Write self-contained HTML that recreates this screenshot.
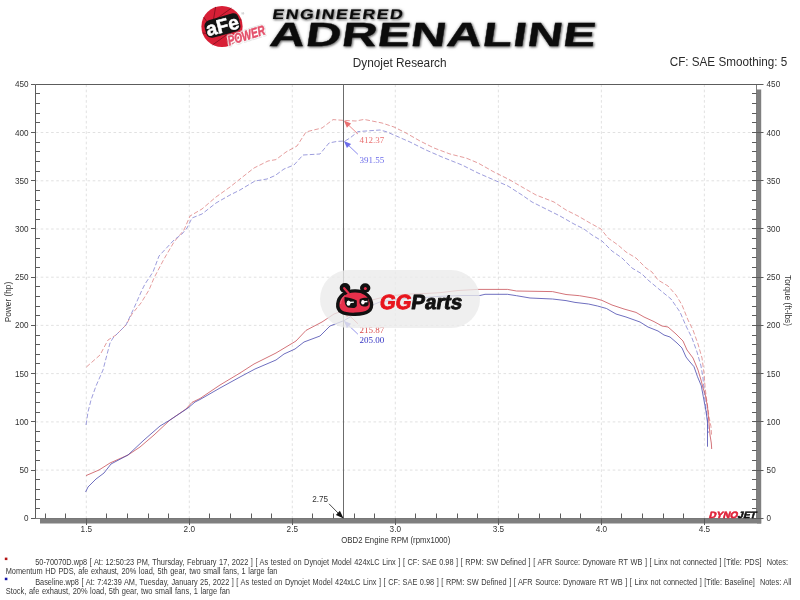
<!DOCTYPE html>
<html lang="en"><head><meta charset="utf-8"><title>Dynojet Research - Dyno Chart</title>
<style>html,body{margin:0;padding:0;background:#fff}body{width:800px;height:600px;overflow:hidden}svg{display:block;will-change:transform}text{font-family:"Liberation Sans",sans-serif}.t8{font-size:9.4px;fill:#333}.ser{font-family:"Liberation Serif",serif;font-size:9px}.ft{font-size:8.8px;fill:#383838}</style></head><body>
<svg width="800" height="600" viewBox="0 0 800 600">
<rect width="800" height="600" fill="#fff"/>
<g stroke="#dedede" stroke-width="0.9" stroke-dasharray="2.6 2.6" fill="none">
<line x1="86.3" y1="84.5" x2="86.3" y2="518.5"/>
<line x1="189.3" y1="84.5" x2="189.3" y2="518.5"/>
<line x1="292.3" y1="84.5" x2="292.3" y2="518.5"/>
<line x1="395.3" y1="84.5" x2="395.3" y2="518.5"/>
<line x1="498.4" y1="84.5" x2="498.4" y2="518.5"/>
<line x1="601.4" y1="84.5" x2="601.4" y2="518.5"/>
<line x1="704.4" y1="84.5" x2="704.4" y2="518.5"/>
<line x1="35.5" y1="470.1" x2="756.5" y2="470.1"/>
<line x1="35.5" y1="421.9" x2="756.5" y2="421.9"/>
<line x1="35.5" y1="373.6" x2="756.5" y2="373.6"/>
<line x1="35.5" y1="325.4" x2="756.5" y2="325.4"/>
<line x1="35.5" y1="277.2" x2="756.5" y2="277.2"/>
<line x1="35.5" y1="229.0" x2="756.5" y2="229.0"/>
<line x1="35.5" y1="180.8" x2="756.5" y2="180.8"/>
<line x1="35.5" y1="132.5" x2="756.5" y2="132.5"/>
</g>
<rect x="40" y="518.8" width="721.2" height="4.7" fill="#7f7f7f"/>
<rect x="757" y="89.5" width="4.2" height="434" fill="#7f7f7f"/>
<g stroke="#5c5c5c" stroke-width="1" fill="none">
<line x1="35.5" y1="84.5" x2="756.5" y2="84.5"/>
<line x1="35.5" y1="84.5" x2="35.5" y2="518.5"/>
<line x1="35.5" y1="518.5" x2="756.5" y2="518.5" stroke-width="0.8"/>
<line x1="756.5" y1="84.5" x2="756.5" y2="518.5" stroke-width="0.8"/>
<line x1="31" y1="518.5" x2="35.5" y2="518.5"/>
<line x1="752" y1="518.5" x2="763.5" y2="518.5"/>
<line x1="35.5" y1="508.5" x2="40" y2="508.5"/>
<line x1="752" y1="508.5" x2="756.5" y2="508.5"/>
<line x1="35.5" y1="499.5" x2="40" y2="499.5"/>
<line x1="752" y1="499.5" x2="756.5" y2="499.5"/>
<line x1="35.5" y1="489.5" x2="40" y2="489.5"/>
<line x1="752" y1="489.5" x2="756.5" y2="489.5"/>
<line x1="35.5" y1="479.5" x2="40" y2="479.5"/>
<line x1="752" y1="479.5" x2="756.5" y2="479.5"/>
<line x1="31" y1="470.5" x2="35.5" y2="470.5"/>
<line x1="752" y1="470.5" x2="763.5" y2="470.5"/>
<line x1="35.5" y1="460.5" x2="40" y2="460.5"/>
<line x1="752" y1="460.5" x2="756.5" y2="460.5"/>
<line x1="35.5" y1="450.5" x2="40" y2="450.5"/>
<line x1="752" y1="450.5" x2="756.5" y2="450.5"/>
<line x1="35.5" y1="441.5" x2="40" y2="441.5"/>
<line x1="752" y1="441.5" x2="756.5" y2="441.5"/>
<line x1="35.5" y1="431.5" x2="40" y2="431.5"/>
<line x1="752" y1="431.5" x2="756.5" y2="431.5"/>
<line x1="31" y1="421.5" x2="35.5" y2="421.5"/>
<line x1="752" y1="421.5" x2="763.5" y2="421.5"/>
<line x1="35.5" y1="412.5" x2="40" y2="412.5"/>
<line x1="752" y1="412.5" x2="756.5" y2="412.5"/>
<line x1="35.5" y1="402.5" x2="40" y2="402.5"/>
<line x1="752" y1="402.5" x2="756.5" y2="402.5"/>
<line x1="35.5" y1="392.5" x2="40" y2="392.5"/>
<line x1="752" y1="392.5" x2="756.5" y2="392.5"/>
<line x1="35.5" y1="383.5" x2="40" y2="383.5"/>
<line x1="752" y1="383.5" x2="756.5" y2="383.5"/>
<line x1="31" y1="373.5" x2="35.5" y2="373.5"/>
<line x1="752" y1="373.5" x2="763.5" y2="373.5"/>
<line x1="35.5" y1="363.5" x2="40" y2="363.5"/>
<line x1="752" y1="363.5" x2="756.5" y2="363.5"/>
<line x1="35.5" y1="354.5" x2="40" y2="354.5"/>
<line x1="752" y1="354.5" x2="756.5" y2="354.5"/>
<line x1="35.5" y1="344.5" x2="40" y2="344.5"/>
<line x1="752" y1="344.5" x2="756.5" y2="344.5"/>
<line x1="35.5" y1="335.5" x2="40" y2="335.5"/>
<line x1="752" y1="335.5" x2="756.5" y2="335.5"/>
<line x1="31" y1="325.5" x2="35.5" y2="325.5"/>
<line x1="752" y1="325.5" x2="763.5" y2="325.5"/>
<line x1="35.5" y1="315.5" x2="40" y2="315.5"/>
<line x1="752" y1="315.5" x2="756.5" y2="315.5"/>
<line x1="35.5" y1="306.5" x2="40" y2="306.5"/>
<line x1="752" y1="306.5" x2="756.5" y2="306.5"/>
<line x1="35.5" y1="296.5" x2="40" y2="296.5"/>
<line x1="752" y1="296.5" x2="756.5" y2="296.5"/>
<line x1="35.5" y1="286.5" x2="40" y2="286.5"/>
<line x1="752" y1="286.5" x2="756.5" y2="286.5"/>
<line x1="31" y1="277.5" x2="35.5" y2="277.5"/>
<line x1="752" y1="277.5" x2="763.5" y2="277.5"/>
<line x1="35.5" y1="267.5" x2="40" y2="267.5"/>
<line x1="752" y1="267.5" x2="756.5" y2="267.5"/>
<line x1="35.5" y1="257.5" x2="40" y2="257.5"/>
<line x1="752" y1="257.5" x2="756.5" y2="257.5"/>
<line x1="35.5" y1="248.5" x2="40" y2="248.5"/>
<line x1="752" y1="248.5" x2="756.5" y2="248.5"/>
<line x1="35.5" y1="238.5" x2="40" y2="238.5"/>
<line x1="752" y1="238.5" x2="756.5" y2="238.5"/>
<line x1="31" y1="228.5" x2="35.5" y2="228.5"/>
<line x1="752" y1="228.5" x2="763.5" y2="228.5"/>
<line x1="35.5" y1="219.5" x2="40" y2="219.5"/>
<line x1="752" y1="219.5" x2="756.5" y2="219.5"/>
<line x1="35.5" y1="209.5" x2="40" y2="209.5"/>
<line x1="752" y1="209.5" x2="756.5" y2="209.5"/>
<line x1="35.5" y1="200.5" x2="40" y2="200.5"/>
<line x1="752" y1="200.5" x2="756.5" y2="200.5"/>
<line x1="35.5" y1="190.5" x2="40" y2="190.5"/>
<line x1="752" y1="190.5" x2="756.5" y2="190.5"/>
<line x1="31" y1="180.5" x2="35.5" y2="180.5"/>
<line x1="752" y1="180.5" x2="763.5" y2="180.5"/>
<line x1="35.5" y1="171.5" x2="40" y2="171.5"/>
<line x1="752" y1="171.5" x2="756.5" y2="171.5"/>
<line x1="35.5" y1="161.5" x2="40" y2="161.5"/>
<line x1="752" y1="161.5" x2="756.5" y2="161.5"/>
<line x1="35.5" y1="151.5" x2="40" y2="151.5"/>
<line x1="752" y1="151.5" x2="756.5" y2="151.5"/>
<line x1="35.5" y1="142.5" x2="40" y2="142.5"/>
<line x1="752" y1="142.5" x2="756.5" y2="142.5"/>
<line x1="31" y1="132.5" x2="35.5" y2="132.5"/>
<line x1="752" y1="132.5" x2="763.5" y2="132.5"/>
<line x1="35.5" y1="122.5" x2="40" y2="122.5"/>
<line x1="752" y1="122.5" x2="756.5" y2="122.5"/>
<line x1="35.5" y1="113.5" x2="40" y2="113.5"/>
<line x1="752" y1="113.5" x2="756.5" y2="113.5"/>
<line x1="35.5" y1="103.5" x2="40" y2="103.5"/>
<line x1="752" y1="103.5" x2="756.5" y2="103.5"/>
<line x1="35.5" y1="93.5" x2="40" y2="93.5"/>
<line x1="752" y1="93.5" x2="756.5" y2="93.5"/>
<line x1="31" y1="84.5" x2="35.5" y2="84.5"/>
<line x1="752" y1="84.5" x2="763.5" y2="84.5"/>
<line x1="45.5" y1="513.5" x2="45.5" y2="518.5"/>
<line x1="65.5" y1="513.5" x2="65.5" y2="518.5"/>
<line x1="86.5" y1="518.5" x2="86.5" y2="525"/>
<line x1="106.5" y1="513.5" x2="106.5" y2="518.5"/>
<line x1="127.5" y1="513.5" x2="127.5" y2="518.5"/>
<line x1="148.5" y1="513.5" x2="148.5" y2="518.5"/>
<line x1="168.5" y1="513.5" x2="168.5" y2="518.5"/>
<line x1="189.5" y1="518.5" x2="189.5" y2="525"/>
<line x1="209.5" y1="513.5" x2="209.5" y2="518.5"/>
<line x1="230.5" y1="513.5" x2="230.5" y2="518.5"/>
<line x1="251.5" y1="513.5" x2="251.5" y2="518.5"/>
<line x1="271.5" y1="513.5" x2="271.5" y2="518.5"/>
<line x1="292.5" y1="518.5" x2="292.5" y2="525"/>
<line x1="312.5" y1="513.5" x2="312.5" y2="518.5"/>
<line x1="333.5" y1="513.5" x2="333.5" y2="518.5"/>
<line x1="354.5" y1="513.5" x2="354.5" y2="518.5"/>
<line x1="374.5" y1="513.5" x2="374.5" y2="518.5"/>
<line x1="395.5" y1="518.5" x2="395.5" y2="525"/>
<line x1="415.5" y1="513.5" x2="415.5" y2="518.5"/>
<line x1="436.5" y1="513.5" x2="436.5" y2="518.5"/>
<line x1="457.5" y1="513.5" x2="457.5" y2="518.5"/>
<line x1="477.5" y1="513.5" x2="477.5" y2="518.5"/>
<line x1="498.5" y1="518.5" x2="498.5" y2="525"/>
<line x1="518.5" y1="513.5" x2="518.5" y2="518.5"/>
<line x1="539.5" y1="513.5" x2="539.5" y2="518.5"/>
<line x1="560.5" y1="513.5" x2="560.5" y2="518.5"/>
<line x1="580.5" y1="513.5" x2="580.5" y2="518.5"/>
<line x1="601.5" y1="518.5" x2="601.5" y2="525"/>
<line x1="621.5" y1="513.5" x2="621.5" y2="518.5"/>
<line x1="642.5" y1="513.5" x2="642.5" y2="518.5"/>
<line x1="663.5" y1="513.5" x2="663.5" y2="518.5"/>
<line x1="683.5" y1="513.5" x2="683.5" y2="518.5"/>
<line x1="704.5" y1="518.5" x2="704.5" y2="525"/>
<line x1="724.5" y1="513.5" x2="724.5" y2="518.5"/>
<line x1="745.5" y1="513.5" x2="745.5" y2="518.5"/>
</g>
<g class="t8">
<text x="23.9" y="521.3" textLength="4.5" lengthAdjust="spacingAndGlyphs">0</text>
<text x="766.6" y="521.3" textLength="4.5" lengthAdjust="spacingAndGlyphs">0</text>
<text x="19.4" y="473.1" textLength="9.1" lengthAdjust="spacingAndGlyphs">50</text>
<text x="766.6" y="473.1" textLength="9.1" lengthAdjust="spacingAndGlyphs">50</text>
<text x="14.9" y="424.9" textLength="13.6" lengthAdjust="spacingAndGlyphs">100</text>
<text x="766.6" y="424.9" textLength="13.6" lengthAdjust="spacingAndGlyphs">100</text>
<text x="14.9" y="376.6" textLength="13.6" lengthAdjust="spacingAndGlyphs">150</text>
<text x="766.6" y="376.6" textLength="13.6" lengthAdjust="spacingAndGlyphs">150</text>
<text x="14.9" y="328.4" textLength="13.6" lengthAdjust="spacingAndGlyphs">200</text>
<text x="766.6" y="328.4" textLength="13.6" lengthAdjust="spacingAndGlyphs">200</text>
<text x="14.9" y="280.2" textLength="13.6" lengthAdjust="spacingAndGlyphs">250</text>
<text x="766.6" y="280.2" textLength="13.6" lengthAdjust="spacingAndGlyphs">250</text>
<text x="14.9" y="232.0" textLength="13.6" lengthAdjust="spacingAndGlyphs">300</text>
<text x="766.6" y="232.0" textLength="13.6" lengthAdjust="spacingAndGlyphs">300</text>
<text x="14.9" y="183.8" textLength="13.6" lengthAdjust="spacingAndGlyphs">350</text>
<text x="766.6" y="183.8" textLength="13.6" lengthAdjust="spacingAndGlyphs">350</text>
<text x="14.9" y="135.5" textLength="13.6" lengthAdjust="spacingAndGlyphs">400</text>
<text x="766.6" y="135.5" textLength="13.6" lengthAdjust="spacingAndGlyphs">400</text>
<text x="14.9" y="87.3" textLength="13.6" lengthAdjust="spacingAndGlyphs">450</text>
<text x="766.6" y="87.3" textLength="13.6" lengthAdjust="spacingAndGlyphs">450</text>
<text x="80.6" y="532.1" textLength="11.4" lengthAdjust="spacingAndGlyphs">1.5</text>
<text x="183.6" y="532.1" textLength="11.4" lengthAdjust="spacingAndGlyphs">2.0</text>
<text x="286.6" y="532.1" textLength="11.4" lengthAdjust="spacingAndGlyphs">2.5</text>
<text x="389.6" y="532.1" textLength="11.4" lengthAdjust="spacingAndGlyphs">3.0</text>
<text x="492.7" y="532.1" textLength="11.4" lengthAdjust="spacingAndGlyphs">3.5</text>
<text x="595.7" y="532.1" textLength="11.4" lengthAdjust="spacingAndGlyphs">4.0</text>
<text x="698.7" y="532.1" textLength="11.4" lengthAdjust="spacingAndGlyphs">4.5</text>
<text x="341.3" y="543" textLength="109" lengthAdjust="spacingAndGlyphs">OBD2 Engine RPM (rpmx1000)</text>
<text transform="translate(11.1,322.3) rotate(-90)" textLength="40.5" lengthAdjust="spacingAndGlyphs">Power (hp)</text>
<text transform="translate(785,275) rotate(90)" textLength="51" lengthAdjust="spacingAndGlyphs">Torque (ft-lbs)</text>
</g>
<text x="352.7" y="66.7" font-size="12.2" fill="#2b2b2b" textLength="93.9" lengthAdjust="spacingAndGlyphs">Dynojet Research</text>
<text x="669.7" y="66.3" font-size="12.2" fill="#2b2b2b" textLength="117.6" lengthAdjust="spacingAndGlyphs">CF: SAE Smoothing: 5</text>
<polyline points="86.4,367.0 100.0,355.0 108.0,340.0 116.0,335.0 126.0,325.0 132.0,314.0 141.0,303.0 149.0,290.0 154.0,278.0 164.0,259.0 174.0,242.0 184.0,230.0 190.0,216.0 202.0,209.0 216.0,197.0 230.0,187.0 240.0,179.0 254.0,168.0 268.0,161.0 276.0,159.6 286.0,152.0 297.0,146.0 306.0,132.0 312.0,130.4 322.0,128.0 333.0,119.6 344.0,120.4 356.0,121.0 364.0,119.4 372.0,121.0 382.0,123.0 394.0,127.0 406.0,133.0 420.0,141.0 434.0,148.0 450.0,154.0 466.0,158.0 478.0,163.0 494.0,172.0 510.0,180.0 522.0,187.0 536.0,195.0 554.0,202.0 566.0,210.0 578.0,216.0 590.0,223.0 601.0,229.0 608.0,238.0 618.0,245.0 626.0,252.0 636.0,258.0 646.0,268.0 652.0,272.0 658.0,280.0 668.0,286.0 676.0,295.0 682.0,305.0 688.0,320.0 693.0,330.0 698.0,344.0 702.0,358.0 704.0,373.0 705.0,386.7 706.7,400.0 709.0,416.7 711.0,426.7 711.7,436.7" fill="none" stroke="#dc7c7c" stroke-width="0.75" stroke-dasharray="4.6 2.2" stroke-linejoin="round"/>
<polyline points="86.0,425.0 88.0,412.0 91.0,400.0 96.0,386.0 103.0,370.0 110.0,343.0 113.0,338.0 126.0,325.0 134.0,308.0 142.0,290.0 145.0,284.0 153.0,272.0 159.0,256.0 174.0,240.0 182.0,234.0 187.0,228.0 192.0,218.0 202.0,214.0 216.0,203.0 230.0,195.0 240.0,190.0 255.0,181.0 267.0,179.0 275.0,175.6 284.0,169.0 294.0,165.0 303.0,155.0 320.0,154.0 329.0,143.0 337.0,141.4 345.0,141.0 350.0,138.0 358.0,131.6 366.0,131.0 380.0,130.0 386.0,131.6 394.0,135.0 410.0,142.0 426.0,150.0 442.0,157.0 462.0,165.0 478.0,173.0 494.0,180.0 508.0,186.0 522.0,195.0 532.0,202.0 542.0,207.0 560.0,216.0 574.0,224.0 584.0,229.0 592.0,235.0 602.0,241.0 612.0,251.0 622.0,258.0 632.0,268.0 642.0,274.0 648.0,280.0 660.0,290.0 671.0,299.0 680.0,312.0 686.0,326.0 692.0,338.0 697.0,352.0 701.0,366.0 703.0,378.0 704.0,390.0 705.0,400.0 706.7,413.0 708.0,426.7 708.3,433.0" fill="none" stroke="#7c7cd0" stroke-width="0.75" stroke-dasharray="4.6 2.2" stroke-linejoin="round"/>
<polyline points="86.0,475.6 99.0,470.0 110.0,463.0 128.0,455.0 140.0,447.0 154.0,435.0 170.0,420.0 186.0,409.0 192.0,402.4 200.0,398.5 220.0,385.0 240.0,373.0 254.0,364.0 276.0,353.0 296.0,341.0 306.0,330.4 322.0,322.0 334.0,314.0 344.0,310.3 352.0,307.0 360.0,303.8 370.0,300.5 380.0,298.0 395.0,295.3 411.0,294.0 425.0,293.5 440.0,292.7 458.0,290.5 478.0,289.4 507.5,289.4 516.5,291.0 552.5,291.6 566.0,294.5 579.5,295.7 595.0,298.4 602.0,300.4 612.0,305.0 624.0,309.0 636.0,312.4 644.0,317.0 654.0,321.6 662.0,326.0 668.0,327.0 676.0,334.0 683.0,341.0 687.0,350.0 693.0,358.0 698.0,370.0 701.0,380.0 703.0,388.0 705.0,393.3 707.5,406.7 709.0,423.0 710.0,435.0 711.3,443.0 711.7,449.0" fill="none" stroke="#c85058" stroke-width="0.8" stroke-linejoin="round"/>
<polyline points="85.6,492.0 88.0,487.0 96.0,479.0 104.0,473.0 111.0,464.0 128.0,455.0 144.0,440.0 160.0,426.0 170.0,420.0 182.0,412.0 188.0,408.0 195.0,402.0 200.0,399.5 220.0,388.0 240.0,377.0 255.0,369.0 276.0,360.0 284.0,354.0 295.0,349.0 304.0,342.0 320.0,336.0 330.0,326.0 344.0,320.6 350.0,317.0 358.0,310.7 366.0,307.5 380.0,302.0 394.0,299.7 410.0,298.1 426.0,297.4 440.0,296.3 462.0,295.5 480.0,295.5 485.0,294.3 507.5,294.3 516.5,295.7 530.0,298.0 552.5,299.0 566.0,300.6 575.0,302.4 588.5,304.0 597.5,306.0 606.5,308.5 616.0,314.0 626.0,317.0 640.0,322.0 648.0,327.0 658.0,331.0 664.0,335.0 670.0,337.0 677.0,343.0 682.0,348.0 686.0,357.0 688.3,360.0 694.0,366.7 697.5,376.7 701.3,385.8 703.3,396.7 705.8,410.0 707.5,421.7 707.5,435.0 707.5,446.7" fill="none" stroke="#4a4aae" stroke-width="0.8" stroke-linejoin="round"/>
<line x1="343.5" y1="84.5" x2="343.5" y2="518.5" stroke="#6c6c6c" stroke-width="1"/>
<line x1="329" y1="503.8" x2="341" y2="516" stroke="#111" stroke-width="0.75"/>
<path d="M343.6 518.6 L335.9 514.9 L339.9 510.7 Z" fill="#111"/>
<text class="t8" x="312.2" y="502.4" textLength="15.9" lengthAdjust="spacingAndGlyphs">2.75</text>
<line x1="345.9" y1="122.6" x2="357.9" y2="134.0" stroke="#ea7070" stroke-width="0.8"/>
<path d="M343.9 120.6 L351.1 123.6 L346.9 127.8 Z" fill="#ea7070"/>
<text class="ser" x="359.6" y="142.9" fill="#ea7070">412.37</text>
<line x1="345.9" y1="142.9" x2="357.9" y2="154.3" stroke="#6c6cea" stroke-width="0.8"/>
<path d="M343.9 140.9 L351.1 143.9 L346.9 148.1 Z" fill="#6c6cea"/>
<text class="ser" x="359.6" y="162.7" fill="#6c6cea">391.55</text>
<line x1="345.9" y1="312.3" x2="357.9" y2="323.7" stroke="#d84848" stroke-width="0.8"/>
<path d="M343.9 310.3 L351.1 313.3 L346.9 317.5 Z" fill="#d84848"/>
<text class="ser" x="359.6" y="332.9" fill="#d84848">215.87</text>
<line x1="345.9" y1="322.8" x2="357.9" y2="334.2" stroke="#7a7ae6" stroke-width="0.8"/>
<path d="M343.9 320.8 L351.1 323.8 L346.9 328.0 Z" fill="#7a7ae6"/>
<text class="ser" x="359.6" y="342.8" fill="#3434c4">205.00</text>
<text transform="translate(708.6,518.2) skewX(-16)" font-size="9.2" font-weight="bold" stroke-width="0.55" paint-order="stroke" textLength="47" lengthAdjust="spacingAndGlyphs"><tspan fill="#e0233a" stroke="#e0233a">DYNO</tspan><tspan fill="#111" stroke="#111">JET</tspan></text>
<rect x="320" y="270" width="160" height="58" rx="29" fill="#ebebeb" fill-opacity="0.78"/>
<g transform="translate(336,282.6)">
<ellipse cx="9" cy="5.4" rx="5.3" ry="4.9" fill="#111"/>
<ellipse cx="29.2" cy="5.4" rx="5.2" ry="4.7" fill="#111"/>
<path d="M18.5 8.3 C27 7.9 33.8 12 35.4 20 C36.8 27.5 32 31.3 19 31.7 C6 32.1 1 28.5 1.8 21 C2.6 13.5 9 8.6 18.5 8.3 Z" fill="#e7304b" stroke="#111" stroke-width="3.4" stroke-linejoin="round"/>
<path d="M8.2 5.6 L12.6 10.6" stroke="#e7304b" stroke-width="2.2" stroke-linecap="round"/>
<circle cx="29.3" cy="5.9" r="1.5" fill="#e7304b"/>
<path d="M4.6 21 C5 17.5 6.4 15 8.6 13.2" stroke="#f0607a" stroke-width="1" fill="none" stroke-linecap="round"/>
<path d="M8.5 14.3 C12.5 14.6 17.5 16 20.8 17.9 L20.8 23.3 C19.6 25 18.4 25.4 17 25.4 L12 24.9 C10.4 24.2 9.4 22.8 9 21 C8.5 18.8 8.3 16.4 8.5 14.3 Z" fill="#111"/>
<path d="M23.8 16.4 C26.5 15.2 29.5 15 31.9 15.3 C32.6 17.6 32.8 20.2 32.5 22.5 C31.4 23.6 30.2 24 28.8 24 C27.2 24 26 23.6 25 22.9 C24 22 23.5 20.8 23.5 19.6 C23.5 18.4 23.6 17.4 23.8 16.4 Z" fill="#111"/>
<ellipse cx="12.5" cy="20.6" rx="1.9" ry="2.6" fill="#fff"/>
<ellipse cx="26.9" cy="19.6" rx="1.7" ry="2.3" fill="#fff"/>
<path d="M13.4 19.9 L17.9 19.5" stroke="#fff" stroke-width="1.3"/>
<path d="M27.4 19.2 L31.4 18.9" stroke="#fff" stroke-width="1.3"/>
</g>
<text transform="translate(379,309) skewX(-9)" font-size="20.6" font-weight="bold" textLength="82.4" lengthAdjust="spacingAndGlyphs" stroke-width="0.9" stroke-linejoin="round" paint-order="stroke"><tspan fill="#e8141c" stroke="#e8141c">GG</tspan><tspan fill="#111" stroke="#111">Parts</tspan></text>
<g>
<circle cx="222" cy="26.5" r="20.6" fill="#d81f36"/>
<line x1="231.4" y1="28.1" x2="228.4" y2="46.1" stroke="#7a0f1c" stroke-width="0.8"/>
<line x1="227.4" y1="34.3" x2="212.6" y2="44.9" stroke="#7a0f1c" stroke-width="0.8"/>
<line x1="220.4" y1="35.9" x2="202.4" y2="32.9" stroke="#7a0f1c" stroke-width="0.8"/>
<line x1="214.2" y1="31.9" x2="203.6" y2="17.1" stroke="#7a0f1c" stroke-width="0.8"/>
<line x1="212.6" y1="24.9" x2="215.6" y2="6.9" stroke="#7a0f1c" stroke-width="0.8"/>
<line x1="216.6" y1="18.7" x2="231.4" y2="8.1" stroke="#7a0f1c" stroke-width="0.8"/>
<line x1="223.6" y1="17.1" x2="241.6" y2="20.1" stroke="#7a0f1c" stroke-width="0.8"/>
<line x1="229.8" y1="21.1" x2="240.4" y2="35.9" stroke="#7a0f1c" stroke-width="0.8"/>
<g transform="translate(222.3,25.6) rotate(-14)">
<path d="M-17.6 -2 C-17.6 -6 -15 -8.4 -11 -8.6 L12 -9.4 C16 -9.4 17.8 -7 17.8 -3 L17.6 4 C17.4 7.6 15 9 11 9.2 L-11 9.4 C-15.4 9.4 -17.6 7.4 -17.6 3.6 Z" fill="#141414"/>
<text x="-16.6" y="6.9" font-size="19.5" font-weight="bold" fill="#fff" stroke="#fff" stroke-width="0.5" textLength="33.4" lengthAdjust="spacingAndGlyphs">aFe</text>
</g>
<text x="241.2" y="15" font-size="4" fill="#888">®</text>
<text transform="translate(229.2,45.6) rotate(-17.3)" font-size="13.6" font-weight="bold" font-style="italic" fill="#fff" stroke="#fff" stroke-width="3" stroke-linejoin="round" textLength="38.6" lengthAdjust="spacingAndGlyphs" style="filter:drop-shadow(0.7px 0.9px 0.7px rgba(0,0,0,.4))">POWER</text>
<text transform="translate(229.2,45.6) rotate(-17.3)" font-size="13.6" font-weight="bold" font-style="italic" fill="#e4506a" stroke="#e4506a" stroke-width="0.5" textLength="38.6" lengthAdjust="spacingAndGlyphs">POWER</text>
</g>
<g font-weight="bold" fill="#0c0c0c" stroke="#0c0c0c" style="filter:drop-shadow(1px 1.5px 1px rgba(0,0,0,.5)) drop-shadow(0 0 1.6px rgba(0,0,0,.3))">
<text transform="translate(271.8,18.6) skewX(-9.5) scale(1.27,1)" font-size="14" stroke-width="0.1" textLength="102.6" lengthAdjust="spacing">ENGINEERED</text>
<text transform="translate(268.6,46.2) skewX(-8.5) scale(1.46,1)" font-size="33.5" stroke-width="0.3" textLength="223.2" lengthAdjust="spacing">ADRENALINE</text>
</g>
<rect x="4.8" y="557.6" width="2.6" height="2.5" fill="#b41414"/>
<rect x="4.8" y="577.7" width="2.6" height="2.5" fill="#1414a8"/>
<g class="ft" word-spacing="0.6">
<text x="35.2" y="564.8" textLength="752.8" lengthAdjust="spacingAndGlyphs" xml:space="preserve">50-70070D.wp8 [ At: 12:50:23 PM, Thursday, February 17, 2022 ] [ As tested on Dynojet Model 424xLC Linx ] [ CF: SAE 0.98 ] [ RPM: SW Defined ] [ AFR Source: Dynoware RT WB ] [ Linx not connected ] [Title: PDS]  Notes:</text>
<text x="5.7" y="573.6" textLength="271.8" lengthAdjust="spacingAndGlyphs">Momentum HD PDS, afe exhaust, 20% load, 5th gear, two small fans, 1 large fan</text>
<text x="35.2" y="584.8" textLength="756.3" lengthAdjust="spacingAndGlyphs" xml:space="preserve">Baseline.wp8 [ At: 7:42:39 AM, Tuesday, January 25, 2022 ] [ As tested on Dynojet Model 424xLC Linx ] [ CF: SAE 0.98 ] [ RPM: SW Defined ] [ AFR Source: Dynoware RT WB ] [ Linx not connected ] [Title: Baseline]  Notes: All</text>
<text x="5.7" y="593.8" textLength="224.3" lengthAdjust="spacingAndGlyphs">Stock, afe exhaust, 20% load, 5th gear, two small fans, 1 large fan</text>
</g>
</svg></body></html>
